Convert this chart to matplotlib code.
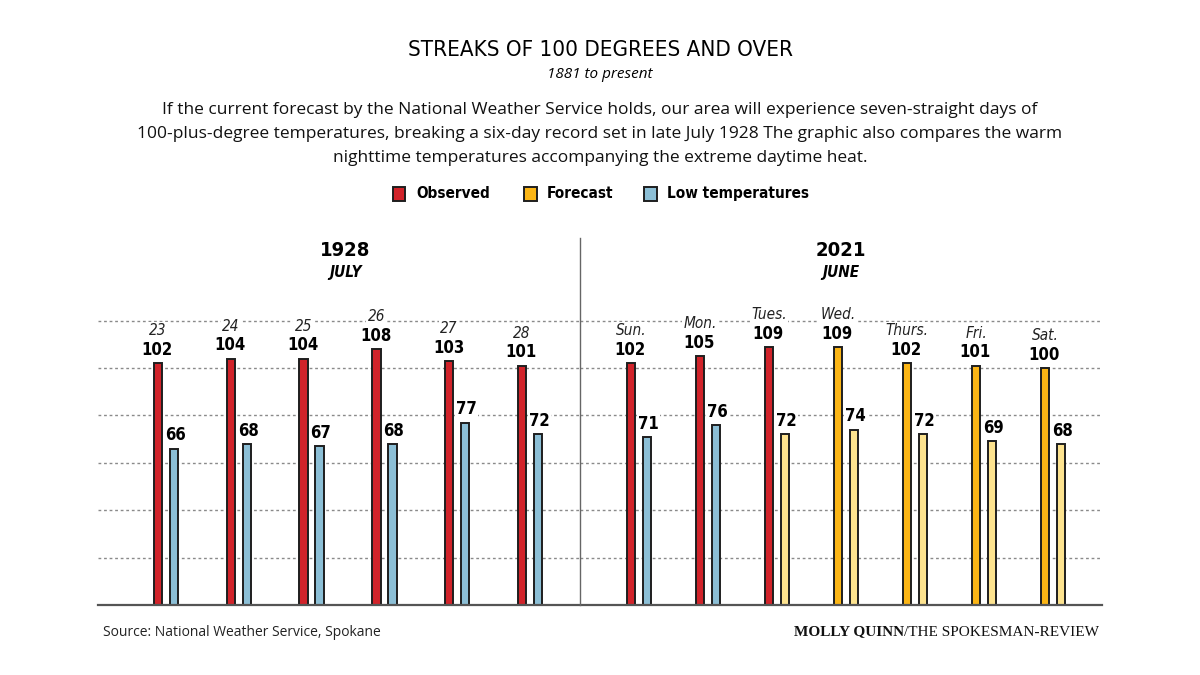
import matplotlib
matplotlib.use("Agg")
import matplotlib.pyplot as plt
from matplotlib.lines import Line2D
from matplotlib.patches import Rectangle
from matplotlib import font_manager as fm

# ---- data ----
days_1928 = ["23", "24", "25", "26", "27", "28"]
highs_1928 = [102, 104, 104, 108, 103, 101]
lows_1928 = [66, 68, 67, 68, 77, 72]

days_2021 = ["Sun.", "Mon.", "Tues.", "Wed.", "Thurs.", "Fri.", "Sat."]
highs_2021 = [102, 105, 109, 109, 102, 101, 100]
lows_2021 = [71, 76, 72, 74, 72, 69, 68]
forecast_2021 = [False, False, False, True, True, True, True]
forecast_low_2021 = [False, False, True, True, True, True, True]

gridlines = [20, 40, 60, 80, 100, 120]

RED = "#d1232a"
YEL = "#fbb515"
BLUE = "#8cbfd6"
PALE = "#fde38f"
EDGE = "#1e1e1e"

W, H = 1200, 675
fig = plt.figure(figsize=(12, 6.75), dpi=100)
fig.patch.set_facecolor("white")

def fx(px):
    return px / W

def fy(py):
    return 1 - py / H

COND = dict(family="DejaVu Sans", stretch="condensed")

names = {f.name for f in fm.fontManager.ttflist}
if "Liberation Sans Narrow" in names:
    TITLE = dict(family="Liberation Sans Narrow", fontsize=22)
else:
    TITLE = dict(family="DejaVu Sans", stretch="condensed", fontsize=16)

base_y = 605
top_y = 605 - 2.37 * 128

def make_axes(left_px, right_px):
    ax = fig.add_axes([fx(left_px), fy(base_y), (right_px - left_px) / W, (base_y - top_y) / H])
    ax.set_ylim(0, 128)
    ax.set_facecolor("none")
    for s in ax.spines.values():
        s.set_visible(False)
    ax.set_xticks([])
    ax.set_yticks([])
    return ax

def draw_panel(ax, days, highs, lows, high_colors, low_colors, px_per_unit, left_px, right_px, first_px):
    xmin = -(first_px - left_px) / px_per_unit
    xmax = xmin + (right_px - left_px) / px_per_unit
    ax.set_xlim(xmin, xmax)
    for g in gridlines:
        ax.axhline(g, color="#8a8a8a", lw=1.0, ls=(0, (2, 2)), zorder=0)
    off = 8 / px_per_unit
    bw = 8.5 / px_per_unit
    xs = list(range(len(days)))
    ax.bar([x - off for x in xs], highs, width=bw, color=high_colors, edgecolor=EDGE, linewidth=1.4, zorder=2)
    ax.bar([x + off for x in xs], lows, width=bw, color=low_colors, edgecolor=EDGE, linewidth=1.4, zorder=2)
    bb = dict(facecolor="white", edgecolor="none", pad=1.0)
    for x, d, h, l in zip(xs, days, highs, lows):
        ax.annotate(str(h), (x - off, h), xytext=(-0.5, 3), textcoords="offset points",
                    ha="center", va="bottom", fontsize=12, fontweight="bold", color="black",
                    bbox=bb, zorder=1.5, **COND)
        ax.annotate(d, (x - off, h), xytext=(0, 18), textcoords="offset points",
                    ha="center", va="bottom", fontsize=11, style="italic", color="#222222",
                    bbox=bb, zorder=1.5, **COND)
        ax.annotate(str(l), (x + off, l), xytext=(1, 3), textcoords="offset points",
                    ha="center", va="bottom", fontsize=12, fontweight="bold", color="black",
                    bbox=bb, zorder=1.5, **COND)

# left panel
axL = make_axes(98, 580)
draw_panel(axL, days_1928, highs_1928, lows_1928,
           [RED] * len(highs_1928), [BLUE] * len(lows_1928),
           72.8, 98, 580, 166)

# right panel
axR = make_axes(580, 1102)
hc = [YEL if f else RED for f in forecast_2021]
lc = [PALE if f else BLUE for f in forecast_low_2021]
draw_panel(axR, days_2021, highs_2021, lows_2021, hc, lc, 69.0, 580, 1102, 639)

# baseline and divider
fig.add_artist(Line2D([fx(98), fx(1102)], [fy(605), fy(605)], color="#555555", lw=1.6, zorder=5))
fig.add_artist(Line2D([fx(580), fx(580)], [fy(238), fy(605)], color="#666666", lw=1.0, zorder=5))

# panel headings
fig.text(fx(345), fy(250), "1928", ha="center", va="center", fontsize=14.5, fontweight="bold", **COND)
fig.text(fx(346), fy(272), "JULY", ha="center", va="center", fontsize=11, fontweight="bold", style="italic", **COND)
fig.text(fx(841), fy(250), "2021", ha="center", va="center", fontsize=14.5, fontweight="bold", **COND)
fig.text(fx(841), fy(272), "JUNE", ha="center", va="center", fontsize=11, fontweight="bold", style="italic", **COND)

# title
fig.text(0.5, fy(50), "STREAKS OF 100 DEGREES AND OVER", ha="center", va="center", **TITLE)
fig.text(0.5, fy(75), "1881 to present", ha="center", va="center", fontsize=11, style="italic", family="Open Sans")
para = ("If the current forecast by the National Weather Service holds, our area will experience seven-straight days of\n"
        "100-plus-degree temperatures, breaking a six-day record set in late July 1928 The graphic also compares the warm\n"
        "nighttime temperatures accompanying the extreme daytime heat.")
fig.text(0.5, fy(134), para, ha="center", va="center", fontsize=12.5, family="Open Sans", linespacing=1.65, color="#111111")

# legend
items = [(399, RED, "Observed"), (530, YEL, "Forecast"), (650, BLUE, "Low temperatures")]
for px, c, t in items:
    fig.add_artist(Rectangle((fx(px - 6.5), fy(201)), 13 / W, 14 / H, facecolor=c, edgecolor=EDGE, lw=1.4))
    fig.text(fx(px + 17), fy(194), t, ha="left", va="center", fontsize=11, fontweight="bold", **COND)

# footer
fig.text(fx(103), fy(632), "Source: National Weather Service, Spokane", ha="left", va="center", fontsize=10, family="Open Sans", color="#222222")
reg = fig.text(fx(1099), fy(632), "/THE SPOKESMAN-REVIEW", ha="right", va="center", fontsize=11, family="Liberation Serif", color="#111111")
fig.canvas.draw()
r = reg.get_window_extent()
fig.text(r.x0 / W, fy(632), "MOLLY QUINN", ha="right", va="center", fontsize=11, fontweight="bold", family="Liberation Serif", color="#111111")

fig.savefig("out.png", dpi=100, facecolor="white")
